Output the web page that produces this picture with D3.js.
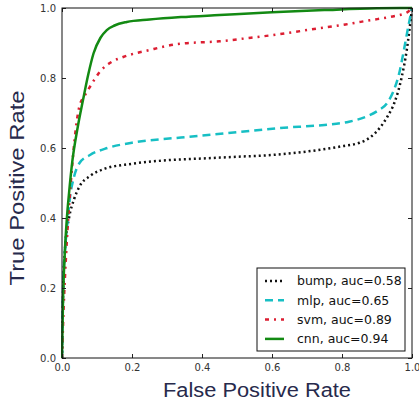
<!DOCTYPE html>
<html>
<head>
<meta charset="utf-8">
<script src="https://cdn.jsdelivr.net/npm/d3@7"></script>
<style>
  body { margin: 0; background: #fff; }
  svg { display: block; }
</style>
</head>
<body>
<div id="chart"></div>
<script>
// roc curves
const bumpFpr = [0, 0.003, 0.01, 0.02, 0.035, 0.05, 0.08, 0.12, 0.2, 0.3, 0.4, 0.5, 0.6, 0.7, 0.8, 0.85, 0.88, 0.91, 0.93, 0.95, 0.97, 0.985, 1.0];
const bumpTpr = [0, 0.18, 0.33, 0.40, 0.455, 0.49, 0.52, 0.54, 0.555, 0.565, 0.57, 0.575, 0.58, 0.59, 0.605, 0.615, 0.63, 0.66, 0.69, 0.73, 0.8, 0.88, 1.0];

const mlpFpr = [0, 0.003, 0.008, 0.014, 0.023, 0.035, 0.05, 0.08, 0.13, 0.2, 0.34, 0.5, 0.62, 0.75, 0.82, 0.87, 0.9, 0.93, 0.95, 0.965, 0.975, 0.99, 1.0];
const mlpTpr = [0, 0.2, 0.3, 0.37, 0.46, 0.52, 0.557, 0.58, 0.60, 0.615, 0.63, 0.645, 0.657, 0.666, 0.675, 0.69, 0.705, 0.73, 0.77, 0.82, 0.87, 0.95, 1.0];

const svmFpr = [0, 0.005, 0.012, 0.02, 0.03, 0.04, 0.05, 0.065, 0.08, 0.11, 0.14, 0.175, 0.25, 0.33, 0.45, 0.54, 0.62, 0.72, 0.81, 0.88, 0.94, 0.985, 1.0];
const svmTpr = [0, 0.15, 0.3, 0.43, 0.56, 0.66, 0.72, 0.75, 0.775, 0.82, 0.845, 0.86, 0.88, 0.897, 0.905, 0.915, 0.925, 0.94, 0.953, 0.965, 0.975, 0.987, 1.0];

const cnnFpr = [0, 0.003, 0.008, 0.014, 0.02, 0.03, 0.045, 0.06, 0.075, 0.09, 0.11, 0.128, 0.15, 0.185, 0.25, 0.34, 0.45, 0.6, 0.75, 0.9, 1.0];
const cnnTpr = [0, 0.17, 0.3, 0.40, 0.47, 0.566, 0.66, 0.737, 0.81, 0.87, 0.915, 0.937, 0.95, 0.96, 0.967, 0.974, 0.98, 0.988, 0.994, 0.999, 1.0];

const labels = ['bump, auc=0.58', 'mlp, auc=0.65', 'svm, auc=0.89', 'cnn, auc=0.94'];
const ticks = [0, 0.2, 0.4, 0.6, 0.8, 1.0];

const series = [
    { fpr: bumpFpr, tpr: bumpTpr, color: '#111', dash: '2,3' },
    { fpr: mlpFpr, tpr: mlpTpr, color: '#17bfc4', dash: '8,5' },
    { fpr: svmFpr, tpr: svmTpr, color: '#dc1e32', dash: '4,5,2,5' },
    { fpr: cnnFpr, tpr: cnnTpr, color: '#138a13', dash: null }
];

const width = 419, height = 402;
const padLeft = 62, padTop = 8, size = 350;

const svg = d3.select('#chart')
    .append('svg')
    .attr('width', width)
    .attr('height', height);

const x = d3.scaleLinear().domain([0, 1]).range([padLeft, padLeft + size]);
const y = d3.scaleLinear().domain([0, 1]).range([padTop + size, padTop]);

const line = d3.line()
    .x(d => x(d[0]))
    .y(d => y(d[1]))
    .curve(d3.curveMonotoneX);

const plot = svg.append('g');
plot.append('clipPath').attr('id', 'clip')
    .append('rect')
    .attr('x', padLeft - 1).attr('y', padTop - 2)
    .attr('width', size + 2).attr('height', size + 3);

series.forEach(s => {
    const pts = s.fpr.map((f, i) => [f, s.tpr[i]]);
    plot.append('path')
        .datum(pts)
        .attr('d', line)
        .attr('fill', 'none')
        .attr('stroke', s.color)
        .attr('stroke-width', 2.5)
        .attr('stroke-dasharray', s.dash)
        .attr('clip-path', 'url(#clip)');
});

// axes, ticks pointing inward on all four sides
const tickFont = '10px "DejaVu Sans", sans-serif';
function styleAxis(g) {
    g.select('.domain').remove();
    g.selectAll('.tick line').attr('stroke', '#222');
    g.selectAll('.tick text').style('font', tickFont).attr('fill', '#333');
}

svg.append('g')
    .attr('transform', `translate(0,${padTop + size})`)
    .call(d3.axisBottom(x).tickValues(ticks).tickFormat(d3.format('.1f')).tickSizeInner(-4).tickPadding(6))
    .call(styleAxis);
svg.append('g')
    .attr('transform', `translate(0,${padTop})`)
    .call(d3.axisTop(x).tickValues(ticks).tickFormat('').tickSizeInner(-4))
    .call(styleAxis);
svg.append('g')
    .attr('transform', `translate(${padLeft},0)`)
    .call(d3.axisLeft(y).tickValues(ticks).tickFormat(d3.format('.1f')).tickSizeInner(-4).tickPadding(6))
    .call(styleAxis);
svg.append('g')
    .attr('transform', `translate(${padLeft + size},0)`)
    .call(d3.axisRight(y).tickValues(ticks).tickFormat('').tickSizeInner(-4))
    .call(styleAxis);

svg.append('rect')
    .attr('x', padLeft).attr('y', padTop)
    .attr('width', size).attr('height', size)
    .attr('fill', 'none')
    .attr('stroke', '#111')
    .attr('stroke-width', 1);

// axis titles
svg.append('text')
    .attr('x', 257)
    .attr('y', 397)
    .attr('text-anchor', 'middle')
    .attr('textLength', 188)
    .attr('lengthAdjust', 'spacingAndGlyphs')
    .style('font', '20px "Liberation Sans", Arial, sans-serif')
    .attr('fill', '#272a4c')
    .text('False Positive Rate');

svg.append('text')
    .attr('transform', 'translate(24,188) rotate(-90)')
    .attr('text-anchor', 'middle')
    .attr('textLength', 195)
    .attr('lengthAdjust', 'spacingAndGlyphs')
    .style('font', '21px "Liberation Sans", Arial, sans-serif')
    .attr('fill', '#272a4c')
    .text('True Positive Rate');

// legend
const legend = svg.append('g');
legend.append('rect')
    .attr('x', 257).attr('y', 268)
    .attr('width', 148).attr('height', 83)
    .attr('fill', '#fff')
    .attr('stroke', '#111')
    .attr('stroke-width', 1);

series.forEach((s, i) => {
    const ly = 281 + i * 19.3;
    legend.append('line')
        .attr('x1', 265).attr('x2', 284)
        .attr('y1', ly).attr('y2', ly)
        .attr('stroke', s.color)
        .attr('stroke-width', 2.5)
        .attr('stroke-dasharray', s.dash);
    legend.append('text')
        .attr('x', 297)
        .attr('y', ly)
        .attr('dy', '0.35em')
        .style('font', '12.5px "DejaVu Sans", sans-serif')
        .attr('fill', '#111')
        .text(labels[i]);
});
</script>
</body>
</html>
